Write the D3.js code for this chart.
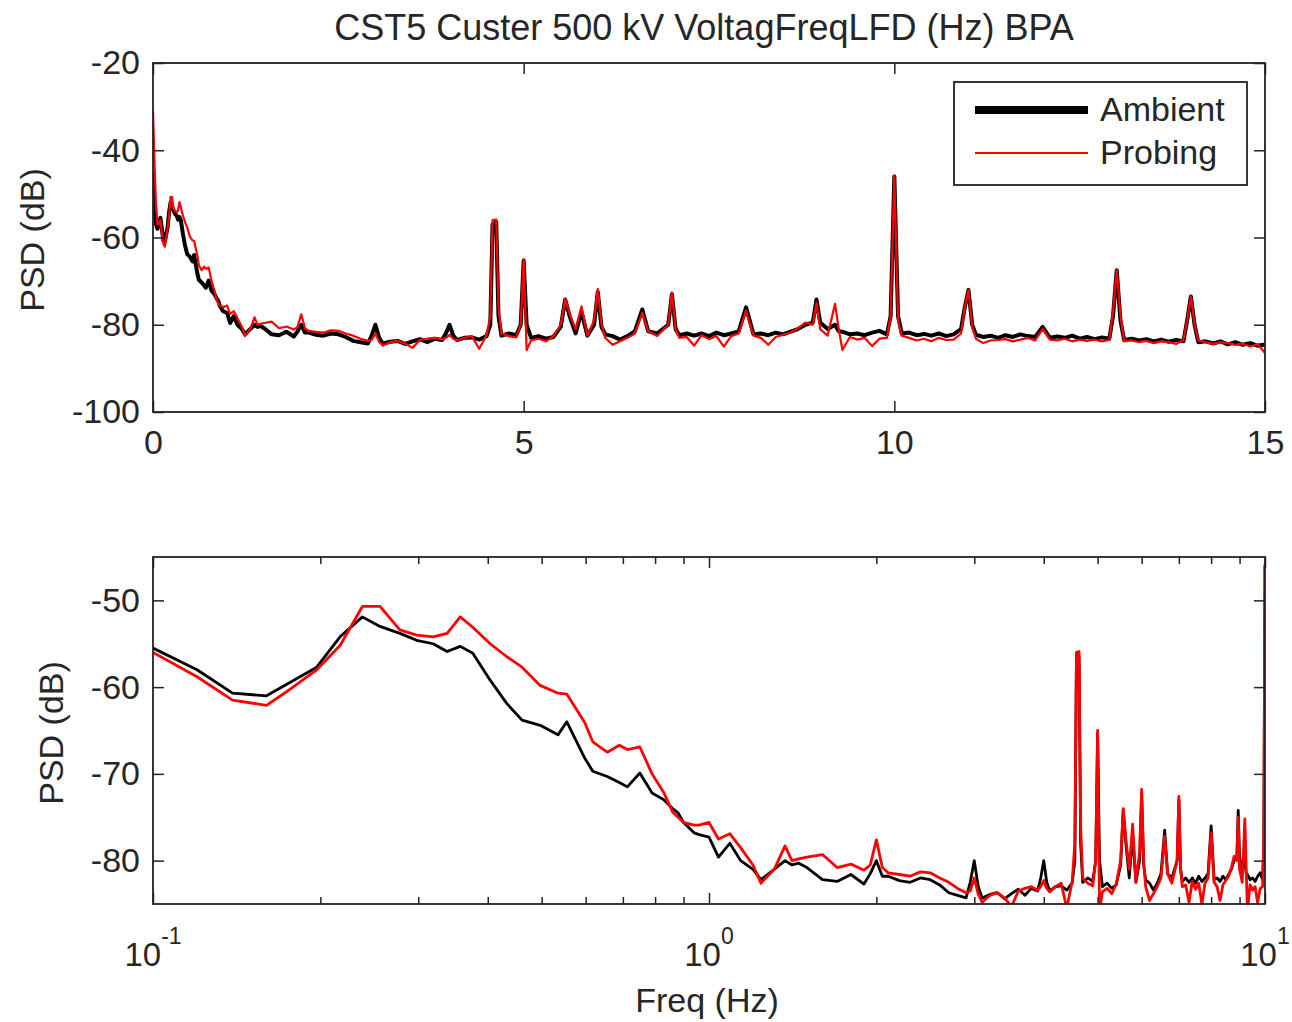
<!DOCTYPE html>
<html><head><meta charset="utf-8">
<script src="https://cdn.jsdelivr.net/npm/d3@7"></script>
<style>
body{margin:0;background:#fff}
text{font-family:"Liberation Sans",Arial,Helvetica,sans-serif;fill:#262626}
</style>
</head><body>
<svg id="c" width="1292" height="1022"></svg>
<script>
// ---- data (frequency in Hz, PSD in dB) ----
const topFreq = [
 0, 0.02, 0.04, 0.06, 0.08, 0.1, 0.12, 0.139, 0.16, 0.176,
 0.197, 0.217, 0.238, 0.256, 0.278, 0.298, 0.319, 0.338, 0.357, 0.376,
 0.404, 0.433, 0.461, 0.497, 0.535, 0.555, 0.598, 0.618, 0.656, 0.69,
 0.713, 0.751, 0.79, 0.83, 0.86, 0.88, 0.9, 0.94, 0.96, 1.0,
 1.04, 1.09, 1.14, 1.2, 1.24, 1.31, 1.37, 1.41, 1.45,
 1.5, 1.6, 1.7, 1.8, 1.9, 1.95, 2.0, 2.05, 2.1, 2.2,
 2.3, 2.4, 2.5, 2.6, 2.7, 2.8, 2.9, 2.95, 3.0, 3.05,
 3.1, 3.2, 3.3, 3.4, 3.5, 3.6, 3.7, 3.8, 3.9, 3.95,
 4.0, 4.05, 4.1, 4.2, 4.3, 4.4, 4.5, 4.55, 4.58, 4.63,
 4.66, 4.7, 4.8, 4.9, 4.96, 5.0, 5.04, 5.1, 5.2, 5.3,
 5.4, 5.5, 5.56, 5.62, 5.7, 5.78, 5.86, 5.95, 6.0, 6.05,
 6.1, 6.2, 6.3, 6.4, 6.5, 6.6, 6.68, 6.8, 6.95, 7.0,
 7.05, 7.1, 7.2, 7.3, 7.4, 7.5, 7.6, 7.7, 7.8, 7.9,
 8.0, 8.1, 8.2, 8.3, 8.4, 8.5, 8.6, 8.7, 8.8, 8.9,
 8.95, 9.0, 9.1, 9.2, 9.25, 9.3, 9.4, 9.5, 9.6, 9.7,
 9.8, 9.9, 9.95, 10.0, 10.05, 10.1, 10.2, 10.3, 10.4, 10.5,
 10.6, 10.7, 10.8, 10.9, 10.95, 11.0, 11.05, 11.1, 11.2, 11.3,
 11.4, 11.5, 11.6, 11.7, 11.8, 11.9, 12.0, 12.1, 12.2, 12.3,
 12.4, 12.5, 12.6, 12.7, 12.8, 12.9, 12.95, 13.0, 13.05, 13.1,
 13.2, 13.3, 13.4, 13.5, 13.6, 13.7, 13.8, 13.9, 13.95, 14.0,
 14.05, 14.1, 14.2, 14.3, 14.4, 14.5, 14.6, 14.7, 14.8, 14.9,
 15.0
];
const ambient = [
 -45, -53, -57, -58, -56.5, -55.5, -58.0, -60.7, -61.0, -59.5,
 -57.7, -54.2, -51.9, -53.0, -53.8, -54.6, -55.0, -55.9, -55.3, -56.1,
 -59.2, -61.9, -63.8, -64.4, -65.5, -64.0, -68.2, -69.7, -70.3, -71.0,
 -71.5, -69.9, -72.2, -73.0, -74.0, -74.5, -75.6, -76.8, -77.0, -77.3,
 -79.6, -78.0, -80.0, -81.0, -82.2, -81.0, -80.0, -80.5, -80.3,
 -80.8, -82.2, -82.4, -81.6, -82.7, -81.5, -80.0, -81.8, -81.8, -82.3,
 -82.5, -82.0, -82.2, -82.8, -83.7, -84.0, -84.3, -82.5, -80.0, -83.0,
 -84.3, -83.9, -83.7, -84.4, -83.8, -83.3, -84.0, -83.2, -83.5, -82.0,
 -80.0, -82.5, -83.5, -83.0, -82.9, -83.4, -82.6, -80.0, -57.0, -56.5,
 -78.0, -82.5, -82.0, -82.4, -80.0, -65.3, -80.0, -83.0, -82.6, -83.2,
 -82.8, -80.5, -74.2, -78.0, -82.0, -77.0, -82.5, -80.0, -72.5, -80.5,
 -82.2, -82.6, -83.4, -82.6, -81.5, -76.5, -81.5, -82.0, -80.0, -73.0,
 -81.0, -82.4, -82.0, -82.5, -82.0, -82.6, -81.8, -82.4, -82.0, -81.5,
 -76.0, -82.2, -82.0, -82.4, -81.8, -82.2, -81.6, -81.0, -80.0, -79.5,
 -74.2, -79.5, -81.0, -80.0, -81.5, -81.6, -82.2, -82.0, -82.4, -81.8,
 -81.4, -82.2, -78.0, -46.0, -78.0, -82.0, -81.8, -82.4, -82.1, -82.5,
 -82.0, -82.6, -82.2, -81.0, -76.0, -72.0, -80.0, -82.3, -82.8, -82.5,
 -83.0, -82.4, -82.8, -82.2, -82.6, -82.8, -80.5, -83.0, -82.7, -83.0,
 -82.5, -83.2, -82.8, -83.3, -82.9, -83.2, -78.0, -67.5, -79.0, -83.5,
 -83.2, -83.6, -83.3, -83.8, -83.4, -83.9, -83.5, -83.8, -79.0, -73.5,
 -80.0, -84.0, -83.8, -84.3, -83.8, -84.5, -84.0, -84.6, -84.2, -84.8,
 -84.5
];
const probing = [
 -31, -43, -52, -57, -57, -56.0, -58.8, -61.5, -62.1, -60.3,
 -58.0, -55.2, -50.7, -50.7, -53.4, -54.0, -54.2, -53.8, -51.9, -53.1,
 -55.0, -56.5, -57.7, -59.8, -60.7, -60.8, -64.1, -66.3, -67.5, -66.7,
 -67.2, -66.9, -70.0, -72.2, -74.4, -75.0, -75.6, -75.9, -75.9, -75.6,
 -77.5, -76.9, -78.5, -80.5, -82.6, -81.0, -78.3, -80.0, -79.8,
 -79.6, -79.3, -80.8, -80.4, -81.1, -80.5, -77.6, -80.8, -81.4, -81.6,
 -81.8, -81.3, -81.4, -82.0, -82.5, -83.2, -83.7, -83.5, -82.0, -83.9,
 -84.8, -84.0, -83.7, -84.3, -85.3, -83.5, -83.2, -83.0, -83.4, -83.0,
 -82.3, -83.2, -83.6, -83.0, -82.6, -85.5, -82.4, -78.0, -56.0, -55.9,
 -76.0, -82.0, -82.6, -82.9, -80.0, -65.0, -85.8, -83.6, -83.2, -83.8,
 -82.7, -80.0, -74.0, -77.5, -81.0, -75.8, -82.5, -79.0, -71.8, -80.0,
 -83.0, -84.6, -83.8, -83.0, -82.0, -77.2, -81.5, -82.6, -80.0, -72.6,
 -81.0, -83.0, -82.8, -84.8, -82.4, -83.3, -82.6, -85.0, -82.6, -82.0,
 -76.8, -82.5, -83.0, -84.6, -82.8, -82.3, -81.8, -80.8, -79.5, -80.0,
 -75.0, -81.0, -82.5, -75.2, -81.0, -85.8, -82.8, -83.4, -83.0, -84.9,
 -83.2, -83.0, -78.0, -45.8, -79.0, -82.5, -83.0, -83.6, -83.2, -83.8,
 -83.0, -83.5, -83.4, -82.0, -76.0, -72.0, -80.5, -83.2, -84.2, -83.6,
 -83.5, -83.3, -83.8, -83.4, -83.0, -83.6, -81.0, -83.4, -83.6, -83.2,
 -83.8, -83.4, -83.7, -83.4, -83.8, -83.5, -77.0, -67.4, -78.0, -83.8,
 -83.6, -84.0, -83.7, -84.2, -83.8, -84.0, -84.4, -83.5, -79.0, -73.5,
 -80.0, -83.6, -84.0, -84.4, -84.0, -84.2, -84.6, -84.3, -85.0, -84.4,
 -86.5
];
const seriesNames = ["Ambient", "Probing"];
const seriesColors = ["#000000", "#ff0000"];
const topXTicks = [0, 5, 10, 15];
const topYTicks = [-100, -80, -60, -40, -20];
const botYTicks = [-80, -70, -60, -50];
const botMajor = [0.1, 1, 10];
const botMajorExp = ["-1", "0", "1"];
const botMinor = [0.2,0.3,0.4,0.5,0.6,0.7,0.8,0.9,2,3,4,5,6,7,8,9];
const titleText = "CST5 Custer 500 kV VoltagFreqLFD (Hz) BPA";

// ---- drawing ----
const svg = d3.select("#c");
svg.append("rect").attr("width",1292).attr("height",1022).attr("fill","#fff");
const L = 153, R = 1265;
const T1 = 63, B1 = 412, T2 = 557, B2 = 904;

const x1 = d3.scaleLinear().domain([0,15]).range([L,R]);
const y1 = d3.scaleLinear().domain([-100,-20]).range([B1,T1]);
const x2 = d3.scaleLog().domain([0.1,10]).range([L,R]);
const y2 = d3.scaleLinear().domain([-85,-45]).range([B2,T2]);

const defs = svg.append("defs");
defs.append("clipPath").attr("id","clip1").append("rect").attr("x",L).attr("y",T1).attr("width",R-L).attr("height",B1-T1);
defs.append("clipPath").attr("id","clip2").append("rect").attr("x",L).attr("y",T2).attr("width",R-L).attr("height",B2-T2);

const pts = topFreq.map((f,i)=>({f, a:ambient[i], p:probing[i]}));

// title
svg.append("text").attr("x",704).attr("y",40).attr("text-anchor","middle")
  .style("font-size","36px").text(titleText);

function styleAxis(g, size){
  g.select(".domain").remove();
  g.selectAll(".tick line").attr("stroke","#222").attr("stroke-width",1.5);
  g.selectAll(".tick text").style("font-size", size).attr("fill","#262626");
}

// ---------- top panel ----------
const p1 = svg.append("g");
p1.append("g").attr("clip-path","url(#clip1)").selectAll("path")
  .data([["a",4,0],["p",2.2,1]]).join("path")
  .attr("fill","none")
  .attr("stroke",d=>seriesColors[d[2]])
  .attr("stroke-width",d=>d[1])
  .attr("stroke-linejoin","round")
  .attr("d",d=>d3.line().x(e=>x1(e.f)).y(e=>y1(e[d[0]]))(pts));

p1.append("g").attr("transform",`translate(0,${B1})`)
  .call(d3.axisBottom(x1).tickValues(topXTicks).tickSize(-11).tickPadding(18).tickFormat(d=>String(d)))
  .call(g=>styleAxis(g,"34px"));
p1.append("g").attr("transform",`translate(0,${T1})`)
  .call(d3.axisTop(x1).tickValues(topXTicks).tickSize(-11).tickFormat(""))
  .call(g=>styleAxis(g,"34px"));
p1.append("g").attr("transform",`translate(${L},0)`)
  .call(d3.axisLeft(y1).tickValues(topYTicks).tickSize(-11).tickPadding(13).tickFormat(d=>String(d)))
  .call(g=>styleAxis(g,"34px"));
p1.append("g").attr("transform",`translate(${R},0)`)
  .call(d3.axisRight(y1).tickValues(topYTicks).tickSize(-11).tickFormat(""))
  .call(g=>styleAxis(g,"34px"));
p1.append("rect").attr("x",L).attr("y",T1).attr("width",R-L).attr("height",B1-T1)
  .attr("fill","none").attr("stroke","#222").attr("stroke-width",1.8);

svg.append("text").attr("transform","translate(44,240) rotate(-90)")
  .attr("text-anchor","middle").style("font-size","34px").text("PSD (dB)");

// legend
const lg = svg.append("g");
lg.append("rect").attr("x",954).attr("y",82).attr("width",293).attr("height",103)
  .attr("fill","#fff").attr("stroke","#222").attr("stroke-width",1.8);
lg.append("line").attr("x1",975).attr("x2",1088).attr("y1",110).attr("y2",110)
  .attr("stroke",seriesColors[0]).attr("stroke-width",8);
lg.append("line").attr("x1",975).attr("x2",1088).attr("y1",153).attr("y2",153)
  .attr("stroke",seriesColors[1]).attr("stroke-width",2);
lg.append("text").attr("x",1100).attr("y",121).style("font-size","34px").text(seriesNames[0]);
lg.append("text").attr("x",1100).attr("y",164).style("font-size","34px").text(seriesNames[1]);

// ---------- bottom panel ----------
const pts2 = pts.filter(d=>d.f>=0.1 && d.f<=10);
const p2 = svg.append("g");
p2.append("g").attr("clip-path","url(#clip2)").selectAll("path")
  .data([["a",2.8,0],["p",2.8,1]]).join("path")
  .attr("fill","none")
  .attr("stroke",d=>seriesColors[d[2]])
  .attr("stroke-width",d=>d[1])
  .attr("stroke-linejoin","round")
  .attr("d",d=>d3.line().x(e=>x2(e.f)).y(e=>y2(e[d[0]]))(pts2));

[[B2,d3.axisBottom],[T2,d3.axisTop]].forEach(([yy,ax])=>{
  p2.append("g").attr("transform",`translate(0,${yy})`)
    .call(ax(x2).tickValues(botMinor).tickSize(-7).tickFormat(""))
    .call(g=>styleAxis(g,"30px"));
  p2.append("g").attr("transform",`translate(0,${yy})`)
    .call(ax(x2).tickValues(botMajor).tickSize(-11).tickFormat(""))
    .call(g=>styleAxis(g,"30px"));
});
p2.append("g").attr("transform",`translate(${L},0)`)
  .call(d3.axisLeft(y2).tickValues(botYTicks).tickSize(-11).tickPadding(13).tickFormat(d=>String(d)))
  .call(g=>styleAxis(g,"34px"));
p2.append("g").attr("transform",`translate(${R},0)`)
  .call(d3.axisRight(y2).tickValues(botYTicks).tickSize(-11).tickFormat(""))
  .call(g=>styleAxis(g,"34px"));
p2.append("rect").attr("x",L).attr("y",T2).attr("width",R-L).attr("height",B2-T2)
  .attr("fill","none").attr("stroke","#222").attr("stroke-width",1.8);

// log tick labels 10^n
botMajor.forEach((v,i)=>{
  const t = svg.append("text").attr("x",x2(v)).attr("y",966).attr("text-anchor","middle");
  t.append("tspan").style("font-size","33px").text("10");
  t.append("tspan").style("font-size","23px").attr("dy",-22).text(botMajorExp[i]);
});

svg.append("text").attr("transform","translate(63,733) rotate(-90)")
  .attr("text-anchor","middle").style("font-size","34px").text("PSD (dB)");
svg.append("text").attr("x",707).attr("y",1012).attr("text-anchor","middle")
  .style("font-size","34px").text("Freq (Hz)");
</script>
</body></html>
